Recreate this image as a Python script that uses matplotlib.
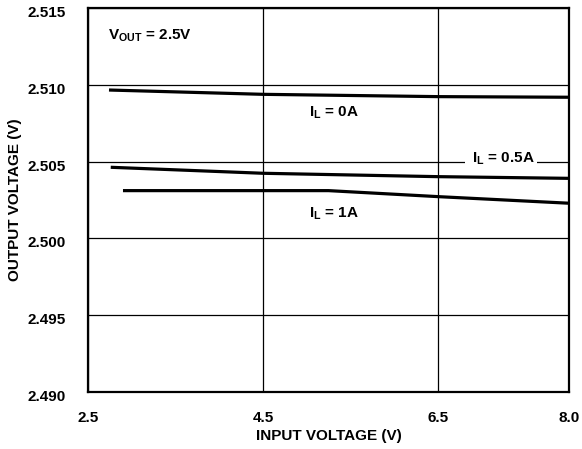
import matplotlib
matplotlib.use("Agg")
import matplotlib.pyplot as plt
from matplotlib.transforms import ScaledTranslation

plt.rcParams['font.family'] = ['Liberation Sans', 'DejaVu Sans']
plt.rcParams['font.weight'] = 'bold'
plt.rcParams['mathtext.fontset'] = 'custom'
plt.rcParams['mathtext.rm'] = 'Liberation Sans:bold'
plt.rcParams['mathtext.bf'] = 'Liberation Sans:bold'
plt.rcParams['mathtext.default'] = 'bf'

x_0a = [2.74, 4.5, 6.5, 8.0]
y_0a = [2.50966, 2.50938, 2.50923, 2.50919]
x_05a = [2.76, 4.5, 6.5, 8.0]
y_05a = [2.50463, 2.50424, 2.50402, 2.50391]
x_1a = [2.90, 5.25, 6.5, 8.0]
y_1a = [2.50311, 2.50311, 2.50272, 2.50229]

xticks = [2.5, 4.5, 6.5, 8.0]
xtick_labels = ["2.5", "4.5", "6.5", "8.0"]
yticks = [2.490, 2.495, 2.500, 2.505, 2.510, 2.515]
ytick_labels = ["2.490", "2.495", "2.500", "2.505", "2.510", "2.515"]

FS = 11

fig = plt.figure(figsize=(5.82, 4.49), dpi=100)
ax = fig.add_axes([88/582, 1-392/449, (569-88)/582, (392-8)/449])

for xs, ys in [(x_0a, y_0a), (x_05a, y_05a), (x_1a, y_1a)]:
    ax.plot(xs, ys, color='black', lw=2.3, solid_capstyle='butt', zorder=3)

ax.set_xlim(2.5, 8.0)
ax.set_ylim(2.490, 2.515)
ax.set_xticks(xticks)
ax.set_xticklabels(xtick_labels)
ax.set_yticks(yticks)
ax.set_yticklabels(ytick_labels)
ax.grid(True, color='black', lw=0.9)
ax.tick_params(length=0, labelsize=FS)
ax.tick_params(axis='y', pad=16)
ax.tick_params(axis='x', pad=14)
off = ScaledTranslation(0, -3.5/100, fig.dpi_scale_trans)
for lab in ax.get_yticklabels():
    lab.set_fontweight('bold')
    lab.set_transform(lab.get_transform() + off)
for lab in ax.get_xticklabels():
    lab.set_fontweight('bold')
for s in ax.spines.values():
    s.set_linewidth(1.6)

ax.set_xlabel("INPUT VOLTAGE (V)", fontsize=FS, fontweight='bold', va='center')
ax.set_ylabel("OUTPUT VOLTAGE (V)", fontsize=FS, fontweight='bold', va='center')
ax.xaxis.set_label_coords(0.5, -(436-392)/384)
ax.yaxis.set_label_coords((15-88)/481, 0.5)

ax.text(2.73, 2.51318, r"V$_{\mathbf{OUT}}$ = 2.5V", fontsize=FS, fontweight='bold', va='center', ha='left')
ax.text(5.03, 2.50817, r"I$_{\mathbf{L}}$ = 0A", fontsize=FS, fontweight='bold', va='center', ha='left')
ax.text(7.22, 2.50517, r"$\ $I$_{\mathbf{L}}$ = 0.5A$\ $", fontsize=FS, fontweight='bold', va='center', ha='center',
        bbox=dict(facecolor='white', edgecolor='none', pad=1.5), zorder=4)
ax.text(5.03, 2.50159, r"I$_{\mathbf{L}}$ = 1A", fontsize=FS, fontweight='bold', va='center', ha='left')

fig.savefig("out.png", dpi=100)
